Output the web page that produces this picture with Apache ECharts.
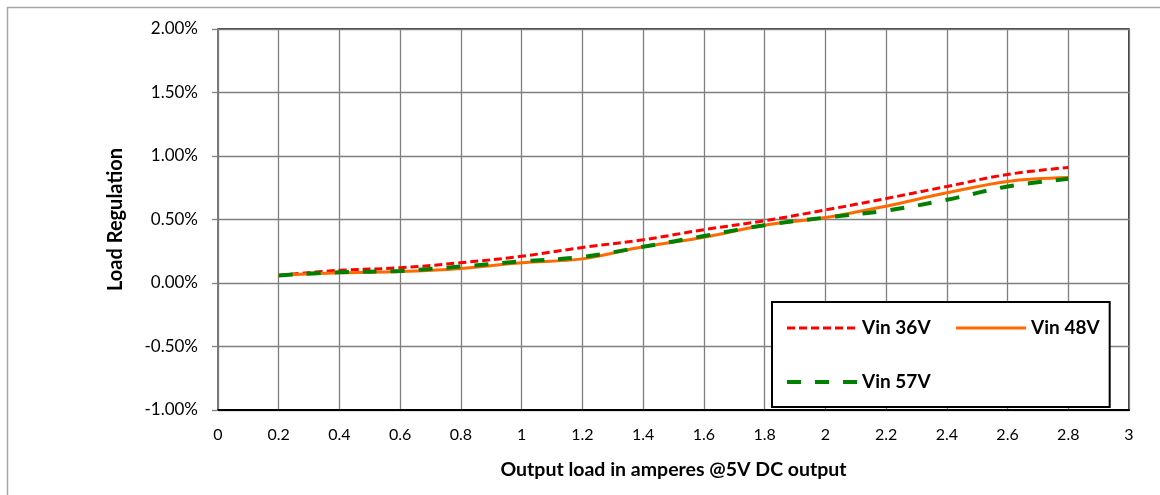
<!DOCTYPE html>
<html>
<head>
<meta charset="utf-8">
<script src="https://cdn.jsdelivr.net/npm/echarts@6/dist/echarts.min.js"></script>
<style>html,body{margin:0;padding:0;background:#fff}#c{width:1160px;height:495px}</style>
</head>
<body>
<div id="c"></div>
<script>
var loadAmps = [0.2, 0.4, 0.6, 0.8, 1.0, 1.2, 1.4, 1.6, 1.8, 2.0, 2.2, 2.4, 2.6, 2.8];
var vin36 = [0.06, 0.10, 0.12, 0.16, 0.21, 0.28, 0.34, 0.42, 0.49, 0.575, 0.665, 0.76, 0.855, 0.91];
var vin48 = [0.06, 0.08, 0.09, 0.115, 0.16, 0.19, 0.285, 0.36, 0.455, 0.515, 0.605, 0.71, 0.80, 0.83];
var vin57 = [0.06, 0.085, 0.095, 0.13, 0.17, 0.205, 0.285, 0.37, 0.455, 0.515, 0.57, 0.655, 0.76, 0.82];
var seriesNames = ['Vin 36V', 'Vin 48V', 'Vin 57V'];
var xTitle = 'Output load in amperes @5V DC output';
var yTitle = 'Load Regulation';

function pairs(ys) { return loadAmps.map(function (x, i) { return [x, ys[i]]; }); }

var FONT = 'Lato, "Open Sans", sans-serif';
var chart = echarts.init(document.getElementById('c'), null, { renderer: 'canvas' });
chart.setOption({
  animation: false,
  backgroundColor: '#fff',
  graphic: [{
    type: 'rect', z: -10, silent: true,
    shape: { x: 7.5, y: 7.5, width: 1200, height: 600 },
    style: { fill: 'none', stroke: '#a6a6a6', lineWidth: 1.5 }
  }],
  grid: {
    left: 218, right: 31, top: 29, bottom: 85,
    show: true, borderColor: '#000', borderWidth: 1.5, backgroundColor: 'transparent'
  },
  legend: {
    left: 772, top: 302,
    width: 320,
    padding: [11, 10, 10, 13],
    backgroundColor: '#fff',
    borderColor: '#000', borderWidth: 2,
    itemWidth: 70, itemHeight: 30, itemGap: 24,
    itemStyle: { opacity: 0 },
    lineStyle: { width: 'inherit' },
    data: seriesNames,
    textStyle: { fontFamily: FONT, fontWeight: 'bold', fontSize: 19, lineHeight: 30, color: '#000' }
  },
  xAxis: {
    type: 'value', min: 0, max: 3, interval: 0.2,
    name: xTitle, nameLocation: 'middle', nameGap: 50,
    nameTextStyle: { fontFamily: FONT, fontWeight: 'bold', fontSize: 19.5, color: '#000' },
    axisLine: { show: true, onZero: false, lineStyle: { color: '#000', width: 2 } },
    axisTick: { show: false },
    axisLabel: {
      margin: 17, fontFamily: FONT, fontSize: 16, color: '#000',
      formatter: function (v) { return String(parseFloat(v.toFixed(1))); }
    },
    splitLine: { show: true, lineStyle: { color: '#7f7f7f', width: 1.3 } }
  },
  yAxis: {
    type: 'value', min: -1, max: 2, interval: 0.5,
    name: yTitle, nameLocation: 'middle', nameGap: 92, nameRotate: 90,
    nameTextStyle: { fontFamily: FONT, fontWeight: 'bold', fontSize: 20, color: '#000' },
    axisLine: { show: true, onZero: false, lineStyle: { color: '#7a7a7a', width: 2 } },
    axisTick: { show: true, length: 6, lineStyle: { color: '#808080', width: 1.3 } },
    axisLabel: {
      margin: 20, fontFamily: FONT, fontSize: 17, color: '#000',
      formatter: function (v) { return v.toFixed(2) + '%'; }
    },
    splitLine: { show: true, lineStyle: { color: '#7f7f7f', width: 1.3 } }
  },
  series: [
    {
      name: seriesNames[0], type: 'line', data: pairs(vin36), smooth: 0.35,
      symbol: 'none', color: '#ff0000',
      lineStyle: { color: '#ff0000', width: 3, type: [8, 4], cap: 'butt' }
    },
    {
      name: seriesNames[1], type: 'line', data: pairs(vin48), smooth: 0.35,
      symbol: 'none', color: '#ff6a00',
      lineStyle: { color: '#ff6a00', width: 3, type: 'solid' }
    },
    {
      name: seriesNames[2], type: 'line', data: pairs(vin57), smooth: 0.35,
      symbol: 'none', color: '#008000',
      lineStyle: { color: '#008000', width: 4, type: [14, 14], cap: 'butt' }
    }
  ]
});
</script>
</body>
</html>
